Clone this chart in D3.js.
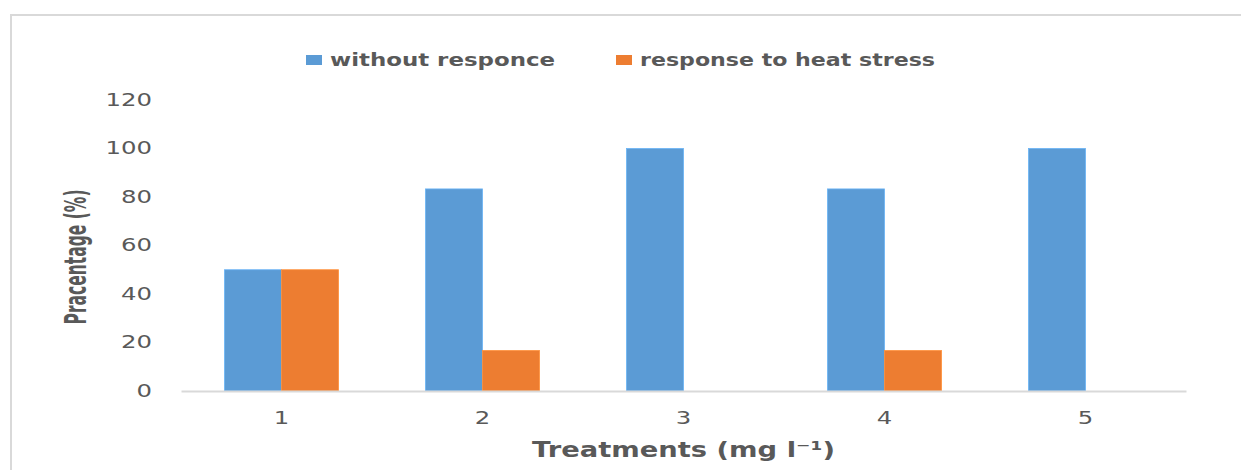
<!DOCTYPE html>
<html>
<head>
<meta charset="utf-8">
<script src="https://cdn.jsdelivr.net/npm/d3@7"></script>
<style>
  html, body { margin: 0; background: #fff; overflow: hidden; }
  svg { display: block; }
  text { font-family: "DejaVu Sans", sans-serif; fill: #595959; }
</style>
</head>
<body>
<svg id="chart" width="1241" height="470"></svg>
<script>
// data
const treatments = ['1', '2', '3', '4', '5'];
const withoutResponse = [50, 83.33, 100, 83.33, 100];
const heatResponse = [50, 16.67, 0, 16.67, 0];
const seriesNames = ['without responce', 'response to heat stress'];
const seriesColors = ['#5B9BD5', '#ED7D31'];
const yTicks = [0, 20, 40, 60, 80, 100, 120];

const svg = d3.select('#chart');
const margin = { left: 181, right: 55, top: 100, bottom: 79 };
const W = 1241, H = 470;

// outer frame: only top and left edges are in view
svg.append('path')
  .attr('d', `M11,${H} V15 H${W}`)
  .attr('fill', 'none').attr('stroke', '#D9D9D9').attr('stroke-width', 2);

const x = d3.scaleBand()
  .domain(treatments)
  .range([margin.left, W - margin.right])
  .paddingInner(0.433)
  .paddingOuter(0.2165);

const xs = d3.scaleBand()
  .domain([0, 1])
  .range([0, x.bandwidth()]);

const y = d3.scaleLinear()
  .domain([0, 120])
  .range([H - margin.bottom, margin.top]);

const rows = treatments.map((t, i) => ({ t, vals: [withoutResponse[i], heatResponse[i]] }));

// bars
const grp = svg.append('g').selectAll('g')
  .data(rows).enter().append('g')
  .attr('transform', d => `translate(${x(d.t)},0)`);

grp.selectAll('rect')
  .data(d => d.vals.map((v, k) => ({ v, k })))
  .enter().append('rect')
  .attr('x', d => xs(d.k))
  .attr('width', xs.bandwidth())
  .attr('y', d => y(d.v))
  .attr('height', d => y(0) - y(d.v))
  .attr('fill', d => seriesColors[d.k])
  .attr('stroke', d => d3.color(seriesColors[d.k]).brighter(0.4))
  .attr('stroke-width', 0.8)
  .style('display', d => d.v > 0 ? null : 'none');

// y axis (labels only)
const gy = svg.append('g')
  .attr('transform', `translate(152,0)`)
  .call(d3.axisLeft(y).tickValues(yTicks).tickSize(0).tickPadding(0));
gy.select('.domain').remove();
gy.selectAll('text')
  .attr('font-size', 17)
  .attr('font-family', '"DejaVu Sans", sans-serif')
  .attr('fill', '#595959')
  .attr('textLength', d => String(d).length * 15.5)
  .attr('lengthAdjust', 'spacingAndGlyphs');

// x axis
const gx = svg.append('g')
  .attr('transform', `translate(0,${y(0)})`)
  .call(d3.axisBottom(x).tickSize(0).tickPadding(21));
gx.select('.domain').attr('stroke', '#D9D9D9').attr('stroke-width', 2);
gx.selectAll('text')
  .attr('font-size', 17)
  .attr('font-family', '"DejaVu Sans", sans-serif')
  .attr('fill', '#595959')
  .attr('textLength', 15.5)
  .attr('lengthAdjust', 'spacingAndGlyphs');

// axis titles
svg.append('text')
  .attr('transform', 'translate(86,257) rotate(-90)')
  .attr('text-anchor', 'middle')
  .attr('font-family', '"Liberation Sans", Arial, sans-serif')
  .attr('font-weight', 'bold')
  .attr('font-size', 31)
  .attr('textLength', 135)
  .attr('lengthAdjust', 'spacingAndGlyphs')
  .text('Pracentage (%)');

svg.append('text')
  .attr('x', (margin.left + W - margin.right) / 2)
  .attr('y', 457)
  .attr('text-anchor', 'middle')
  .attr('font-weight', 'bold')
  .attr('font-size', 22)
  .attr('textLength', 303)
  .attr('lengthAdjust', 'spacingAndGlyphs')
  .text('Treatments (mg l\u207B\u00B9)');

// legend
const legendX = [306, 616];
const legendW = [225, 295];
const lg = svg.append('g').selectAll('g')
  .data(seriesNames).enter().append('g')
  .attr('transform', (d, i) => `translate(${legendX[i]},55)`);
lg.append('rect')
  .attr('width', 16).attr('height', 10)
  .attr('fill', (d, i) => seriesColors[i]);
lg.append('text')
  .attr('x', 24).attr('y', 11)
  .attr('font-weight', 'bold')
  .attr('font-size', 18)
  .attr('textLength', (d, i) => legendW[i])
  .attr('lengthAdjust', 'spacingAndGlyphs')
  .text(d => d);
</script>
</body>
</html>
